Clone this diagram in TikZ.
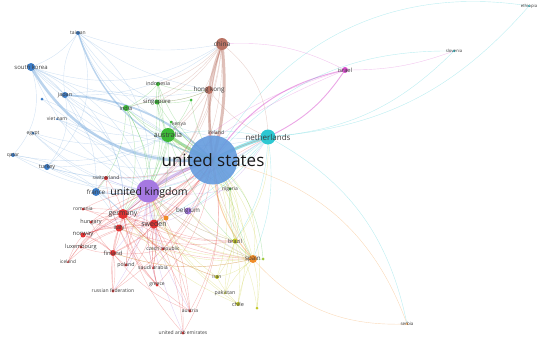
\documentclass[tikz,border=0pt]{standalone}
\usepackage{fontspec}
\setmainfont{Open Sans}
\definecolor{cus}{RGB}{100,155,222}
\definecolor{cblue}{RGB}{60,125,200}
\definecolor{clb}{RGB}{120,170,220}
\definecolor{cpur}{RGB}{165,120,225}
\definecolor{ccyan}{RGB}{45,200,210}
\definecolor{cgreen}{RGB}{60,185,55}
\definecolor{cbrown}{RGB}{185,115,100}
\definecolor{cmag}{RGB}{215,80,205}
\definecolor{cred}{RGB}{225,50,50}
\definecolor{corange}{RGB}{240,140,40}
\definecolor{cyel}{RGB}{195,200,40}
\definecolor{cyg}{RGB}{160,200,60}
\definecolor{lblc}{RGB}{60,60,60}
\definecolor{lbld}{RGB}{25,25,25}
\pgfdeclarelayer{bg}
\pgfsetlayers{bg,main}
\tikzset{
  lnk/.style={draw=#1, draw opacity=0.32, line width=0.4pt},
  dotn/.style={circle, inner sep=0pt, outer sep=0pt, draw=none},
  lbl/.style={inner sep=0pt, text=lblc}
}
\newcommand\vn[7]{%
  \node[dotn, fill=#5, minimum size=#4pt] (n#1) at (#2,#3) {};
  \node[lbl, font=\fontsize{#7}{#7}\selectfont] (l#1) at (#2,#3) {#6};}
\newcommand\vd[4]{\node[dotn, fill=#4, minimum size=#3pt] (n#1) at (#2) {};}
\newcommand\edg[2]{\foreach \a/\b/\bd in {#2} \draw[lnk=#1] (n\a.center) to[bend left=\bd] (n\b.center);}
\begin{document}
\begin{tikzpicture}[x=1pt,y=-1pt]
\useasboundingbox (0,0) rectangle (550,340);
% ---------- nodes ----------
\vd{xb}{42,99}{3}{cblue}
\vd{gd}{191,100}{3}{cgreen}
\vd{od}{166,218}{5}{corange}
\vd{yd}{257,308}{3}{cyel}
\vd{gdb}{263,259}{3}{cyg}
\vd{ke}{171,122}{3}{cgreen}
\node[lbl, font=\fontsize{5}{5}\selectfont] (lke) at (179,124) {kenya};
\vn{et}{529}{6}{2}{ccyan}{ethiopia}{4.3}
\vn{si}{454}{51}{2.5}{ccyan}{slovenia}{4.3}
\vn{tw}{78}{33}{4}{cblue}{taiwan}{5}
\vn{kr}{31}{67}{8}{cblue}{south korea}{6}
\vn{jp}{65}{95}{6}{cblue}{japan}{5.5}
\vn{id}{158}{84}{4}{cgreen}{indonesia}{5.3}
\vn{sg}{157}{102}{5}{cgreen}{singapore}{6}
\vn{in}{126}{108}{6}{cgreen}{india}{5.5}
\vn{ie}{216}{133}{2}{cbrown}{ireland}{5}
\vn{vn}{57}{119}{2}{cblue}{viet nam}{5}
\vn{eg}{33}{133}{3}{cblue}{egypt}{5}
\vn{qa}{13}{155}{4}{cblue}{qatar}{5}
\vn{tr}{47}{167}{6}{cblue}{turkey}{5.5}
\vn{ch}{106}{178}{4}{cred}{switzerland}{5}
\vn{ng}{230}{189}{3}{cgreen}{nigeria}{5}
\vn{ro}{83}{209}{3}{cred}{romania}{5}
\vn{hu}{91}{222}{3}{cred}{hungary}{5.5}
\vn{no}{83}{235}{5}{cred}{norway}{6}
\vn{lu}{81}{247}{3}{cred}{luxembourg}{5.6}
\vn{fi}{113}{253}{6}{cred}{finland}{5.8}
\vn{cz}{163}{249}{3}{cred}{czech republic}{5}
\vn{is}{68}{262}{2}{cred}{iceland}{4.8}
\vn{pl}{126}{265}{3}{cred}{poland}{5.3}
\vn{sa}{153}{268}{2}{cred}{saudi arabia}{5.2}
\vn{gr}{157}{285}{3}{cred}{greece}{5}
\vn{ru}{113}{291}{3}{cred}{russian federation}{5}
\vn{at}{190}{311}{3}{cred}{austria}{5}
\vn{ae}{183}{333}{3}{cred}{united arab emirates}{5}
\vn{ir}{217}{277}{4}{cyel}{iran}{5}
\vn{pk}{225}{293}{2}{cyel}{pakistan}{5.2}
\vn{cl}{238}{304}{4}{cyel}{chile}{5.5}
\vn{sr}{407}{324}{2}{corange}{serbia}{4.5}
\vn{br}{235}{241}{5}{cyel}{brazil}{5.5}
\vn{es}{253}{259}{8}{corange}{spain}{6.2}
\vn{il}{345}{70}{6}{cmag}{israel}{5.8}
\vn{hk}{209}{90}{8}{cbrown}{hong kong}{6.3}
\vn{cn}{222}{44}{12}{cbrown}{china}{6.5}
\vn{fr}{96}{192}{8}{cblue}{france}{6.3}
\vn{be}{188}{211}{7}{cpur}{belgium}{6.3}
\vn{it}{119}{228}{7}{cred}{italy}{5.5}
\vn{se}{154}{224}{9}{cred}{sweden}{7}
\vn{de}{123}{214}{10}{cred}{germany}{7}
\node[dotn, fill=cus, fill opacity=0.9, minimum size=49pt] (nus) at (213,160) {};
\node[lbl, text=lbld, font=\fontsize{17}{17}\selectfont] (lus) at (213,160) {united states};
\vn{au}{168}{135}{14}{cgreen}{australia}{7}
\vn{nl}{268}{137}{15}{ccyan}{netherlands}{8}
\node[dotn, fill=cpur, minimum size=23pt] (nuk) at (148,191) {};
\node[lbl, text=lbld, font=\fontsize{10.5}{10.5}\selectfont] (luk) at (149,193) {united kingdom};
% ---------- edges ----------
\begin{pgfonlayer}{bg}
% thick links
\draw[lnk=clb, line width=2.6pt, draw opacity=0.5] (nkr.center) to[bend left=-32] (nus.center);
\draw[lnk=clb, line width=1.8pt, draw opacity=0.5] (njp.center) to[bend left=20] (nus.center);
\draw[lnk=clb, line width=1.4pt, draw opacity=0.5] (ntw.center) to[bend left=-28] (nus.center);
\draw[lnk=cbrown, line width=3pt, draw opacity=0.45] (ncn.center) to[bend left=10] (nus.center);
\draw[lnk=cbrown, line width=2.2pt, draw opacity=0.4] (ncn.center) to[bend left=-6] (nhk.center);
\draw[lnk=cbrown, line width=2.4pt, draw opacity=0.4] (nhk.center) to[bend left=-4] (nus.center);
\draw[lnk=cbrown, line width=1.2pt, draw opacity=0.35] (ncn.center) to[bend left=-12] (nus.center);
\draw[lnk=cpur, line width=3pt, draw opacity=0.45] (nuk.center) to[bend left=8] (nus.center);
\draw[lnk=ccyan, line width=3.2pt, draw opacity=0.5] (nus.center) to[bend left=6] (nnl.center);
\draw[lnk=cgreen, line width=3pt, draw opacity=0.45] (nau.center) to[bend left=-6] (nus.center);
\draw[lnk=cmag, line width=1pt, draw opacity=0.5] (nil.center) to[bend left=-22] (nus.center);
\draw[lnk=cmag, line width=0.9pt, draw opacity=0.5] (nil.center) to[bend left=15] (nnl.center);
\draw[lnk=corange, line width=1pt, draw opacity=0.4] (nus.center) to[bend left=-20] (nes.center);
\draw[lnk=cred, line width=1pt, draw opacity=0.35] (nde.center) to[bend left=-10] (nus.center);
\draw[lnk=cred, line width=1pt, draw opacity=0.35] (nse.center) to[bend left=-10] (nus.center);
\draw[lnk=cblue, line width=1pt, draw opacity=0.35] (nfr.center) to[bend left=-8] (nuk.center);
% long thin links
\edg{ccyan}{et/us/-35, et/nl/22, si/us/-25, si/nl/20, nl/sr/25, nl/es/15, nl/uk/12, nl/be/10, nl/de/12, nl/au/-10, nl/se/10, nl/br/15}
\edg{corange}{sr/us/-30, sr/es/25}
\edg{cmag}{il/uk/-15, il/cn/-15, il/si/-10, il/de/-10}
% blue
\edg{clb}{kr/cn/-25, tw/cn/-15, jp/cn/-20, kr/jp/10, tw/kr/15, kr/uk/-20, jp/uk/-15, tw/au/-20, kr/au/-15, jp/au/15, tw/hk/-12, kr/hk/-18, us/vn/20, us/eg/22, us/qa/20, us/tr/18, us/fr/15, us/xb/20, uk/tr/12, uk/qa/15, uk/eg/18, fr/de/10, fr/it/12, fr/ch/10, tw/tr/35, kr/qa/30, jp/sg/15, vn/au/-12, eg/au/-15, tr/de/15, qa/au/-18, kr/nl/-30, tw/nl/-35, tw/uk/30, kr/de/35, jp/de/30, tr/au/-15, xb/uk/20, tw/jp/-20, jp/tr/25, kr/se/32, tw/sg/-15, kr/fr/30, qa/de/20, eg/uk/-15, vn/uk/15}
% green
\edg{cgreen}{au/in/10, au/sg/8, au/id/10, au/gd/-10, au/ke/5, in/us/-15, sg/us/-12, id/us/-15, ke/us/-10, gd/us/-10, in/sg/10, sg/id/10, au/uk/10, in/uk/15, sg/uk/15, au/ng/-15, ng/us/10, ng/br/-10, au/de/15, au/se/12, au/es/-15, in/de/20, sg/hk/-10, id/hk/-12, id/in/10, gd/sg/10, ke/uk/12, ng/es/-10, id/uk/18, in/fr/18, gdb/us/-22, gdb/es/10, in/se/15, sg/de/18}
% brown
\edg{cbrown}{cn/uk/20, cn/au/15, cn/sg/15, cn/nl/25, hk/au/10, hk/uk/18, hk/sg/10, cn/de/25, ie/us/10, ie/uk/15, cn/se/22, hk/nl/-15, cn/in/18, cn/es/-25, cn/ng/-22, hk/de/20, cn/id/15}
% purple
\edg{cpur}{uk/be/-10, uk/de/10, uk/se/-8, uk/it/10, uk/no/15, uk/fi/12, uk/es/-15, uk/nl/-10, be/us/-10, be/nl/-15, uk/ch/10, uk/cz/-10, uk/ru/15, uk/gr/-10, uk/ng/-10, uk/br/-15, be/de/10, be/se/10, uk/at/-12, uk/ae/-10, uk/pl/10, be/es/-10}
% red
\edg{cred}{it/us/-12, ch/us/-10, fi/us/-15, no/us/-12, de/it/10, de/se/-10, se/fi/12, de/fi/10, it/se/-10, no/se/10, no/de/-10, hu/de/10, ro/de/-10, lu/de/10, is/no/10, fi/no/-10, cz/se/-10, cz/de/10, pl/de/-10, pl/se/10, sa/se/-10, gr/it/12, gr/uk/10, ru/de/10, ru/fi/-10, at/de/-15, at/se/-12, at/uk/-15, ae/us/-20, ae/uk/-15, ae/se/-10, ru/us/-18, hu/uk/10, ro/uk/12, is/uk/15, lu/uk/12, at/us/-20, gr/us/-18, sa/us/-15, cz/us/-15, pl/uk/10, de/es/-15, se/es/-12, it/es/-15, de/nl/10, se/nl/10, od/us/-10, od/uk/10, fi/it/10, ch/de/10, ch/it/-10, no/it/10, is/de/15, lu/fi/-10, sa/de/12, gr/de/15, ru/se/-15, ae/de/15, at/it/15, hu/it/-10, ro/it/10, fi/cz/-10, pl/fi/10, ch/fr/-10, sa/uk/-15, gr/se/10, at/fi/15, ru/it/12, de/br/-15, se/br/-12, it/br/-15, fi/es/-15, de/ir/-15, se/gr/-10, hu/se/12, no/fi/15, is/se/20, lu/se/15, ro/se/15, hu/fi/-10}
% yellow / orange
\edg{cyel}{br/us/-18, es/br/10, es/uk/15, cl/es/10, pk/us/-22, ir/us/-20, ir/es/-15, cl/us/-25, yd/es/-10, yd/us/-25, br/uk/15, es/au/-20, pk/es/10, cl/br/-10, ir/uk/15, br/au/-15, es/us/-32, br/us/-30, cl/de/15, pk/uk/15, ir/de/15, yd/br/-10, cl/ir/10, es/se/10, br/nl/-20, es/ng/15, pk/br/10, cl/uk/18, br/be/10, es/be/12, es/it/10, es/fi/15, ir/br/-10, es/cz/12}
\end{pgfonlayer}
\end{tikzpicture}
\end{document}
